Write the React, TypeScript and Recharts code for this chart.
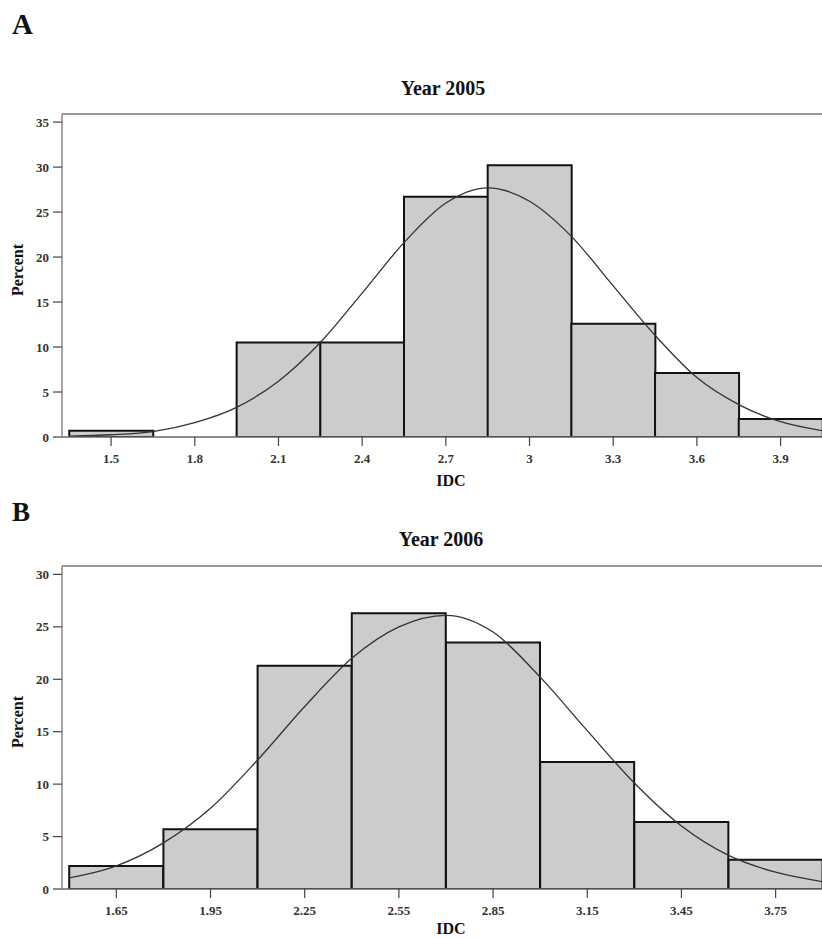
import { Bar, ComposedChart, Line, ReferenceLine, XAxis, YAxis } from "recharts";

// Year 2005 histogram (bin centres, percent per bin)
const bins2005 = [1.5, 1.8, 2.1, 2.4, 2.7, 3.0, 3.3, 3.6, 3.9];
const percent2005 = [0.7, 0, 10.5, 10.5, 26.7, 30.2, 12.6, 7.1, 2.0];
// fitted normal curve
const curveX2005 = [1.35, 1.5, 1.65, 1.8, 1.95, 2.1, 2.25, 2.4, 2.55, 2.7, 2.85, 3.0, 3.15, 3.3, 3.45, 3.6, 3.75, 3.9, 4.05];
const curveY2005 = [0.1, 0.25, 0.6, 1.6, 3.3, 6.2, 10.5, 16.0, 21.6, 26.0, 27.7, 26.2, 22.3, 16.8, 11.3, 6.6, 3.6, 1.7, 0.7];
const xTicks2005 = [1.5, 1.8, 2.1, 2.4, 2.7, 3, 3.3, 3.6, 3.9];
const yTicks2005 = [0, 5, 10, 15, 20, 25, 30, 35];

// Year 2006 histogram
const bins2006 = [1.65, 1.95, 2.25, 2.55, 2.85, 3.15, 3.45, 3.75];
const percent2006 = [2.2, 5.7, 21.3, 26.3, 23.5, 12.1, 6.4, 2.8];
const curveX2006 = [1.5, 1.65, 1.8, 1.95, 2.1, 2.25, 2.4, 2.55, 2.7, 2.85, 3.0, 3.15, 3.3, 3.45, 3.6, 3.75, 3.9];
const curveY2006 = [1.05, 2.2, 4.4, 7.7, 12.3, 17.4, 22.0, 25.0, 26.1, 24.5, 20.2, 15.1, 10.1, 6.0, 3.2, 1.6, 0.7];
const xTicks2006 = [1.65, 1.95, 2.25, 2.55, 2.85, 3.15, 3.45, 3.75];
const yTicks2006 = [0, 5, 10, 15, 20, 25, 30];

const serif = "'Liberation Serif', 'Times New Roman', serif";
const tickText = { fill: "#333", fontSize: 13, fontWeight: 700, fontFamily: serif };

function Histogram({
  bins,
  percents,
  curveX,
  curveY,
  xTicks,
  yTicks,
  xDomain,
  yDomain,
  height,
}: {
  bins: number[];
  percents: number[];
  curveX: number[];
  curveY: number[];
  xTicks: number[];
  yTicks: number[];
  xDomain: [number, number];
  yDomain: [number, number];
  height: number;
}) {
  const barData = bins.map((idc, i) => ({ idc, percent: percents[i] }));
  const curveData = curveX.map((idc, i) => ({ idc, fit: curveY[i] }));

  return (
    <ComposedChart
      width={840}
      height={height}
      data={barData}
      barCategoryGap={0}
      barGap={0}
      margin={{ top: 114, right: 0, bottom: height - 437 - 40, left: 0 }}
    >
      <XAxis
        xAxisId="fit"
        dataKey="idc"
        type="number"
        domain={xDomain}
        allowDataOverflow
        ticks={xTicks}
        interval={0}
        height={40}
        tickSize={9}
        tickMargin={8}
        fontSize={13}
        axisLine={{ stroke: "#666", strokeWidth: 1.5 }}
        tickLine={{ stroke: "#444", strokeWidth: 1.2 }}
        tick={tickText}
      />
      <XAxis xAxisId="bins" dataKey="idc" type="number" domain={xDomain} allowDataOverflow hide height={0} />
      <YAxis
        type="number"
        domain={yDomain}
        allowDataOverflow
        ticks={yTicks}
        interval={0}
        width={62}
        tickSize={9}
        tickMargin={4}
        fontSize={13}
        axisLine={{ stroke: "#888", strokeWidth: 1.5 }}
        tickLine={{ stroke: "#444", strokeWidth: 1.2 }}
        tick={tickText}
      />
      <ReferenceLine xAxisId="fit" y={yDomain[1]} stroke="#999" strokeWidth={2} />
      <Bar
        xAxisId="bins"
        dataKey="percent"
        fill="#cccccc"
        stroke="#111"
        strokeWidth={2}
        isAnimationActive={false}
      />
      <Line
        xAxisId="fit"
        data={curveData}
        dataKey="fit"
        type="monotone"
        stroke="#333"
        strokeWidth={1.3}
        dot={false}
        activeDot={false}
        isAnimationActive={false}
      />
    </ComposedChart>
  );
}

export default function App() {
  return (
    <div
      style={{
        position: "absolute",
        left: 0,
        top: 0,
        width: 822,
        height: 938,
        overflow: "hidden",
        background: "#fff",
      }}
    >
      <div style={{ position: "absolute", left: 0, top: 0 }}>
        <Histogram
          bins={bins2005}
          percents={percent2005}
          curveX={curveX2005}
          curveY={curveY2005}
          xTicks={xTicks2005}
          yTicks={yTicks2005}
          xDomain={[1.324, 4.113]}
          yDomain={[0, 35.9]}
          height={490}
        />
      </div>
      <div style={{ position: "absolute", left: 0, top: 452 }}>
        <Histogram
          bins={bins2006}
          percents={percent2006}
          curveX={curveX2006}
          curveY={curveY2006}
          xTicks={xTicks2006}
          yTicks={yTicks2006}
          xDomain={[1.477, 3.955]}
          yDomain={[0, 30.8]}
          height={486}
        />
      </div>
      <svg
        width={822}
        height={938}
        style={{ position: "absolute", left: 0, top: 0, pointerEvents: "none" }}
        fontFamily={serif}
        fontWeight={700}
        fill="#111"
      >
        <text x={12} y={34} fontSize={29}>A</text>
        <text x={443} y={95} fontSize={20} textAnchor="middle">Year 2005</text>
        <text x={451} y={486} fontSize={16} textAnchor="middle">IDC</text>
        <text x={19} y={270} fontSize={16} textAnchor="middle" dominantBaseline="middle" transform="rotate(-90 19 270)">
          Percent
        </text>
        <text x={12} y={521} fontSize={27}>B</text>
        <text x={441} y={546} fontSize={20} textAnchor="middle">Year 2006</text>
        <text x={451} y={934} fontSize={16} textAnchor="middle">IDC</text>
        <text x={19} y={722} fontSize={16} textAnchor="middle" dominantBaseline="middle" transform="rotate(-90 19 722)">
          Percent
        </text>
      </svg>
    </div>
  );
}
